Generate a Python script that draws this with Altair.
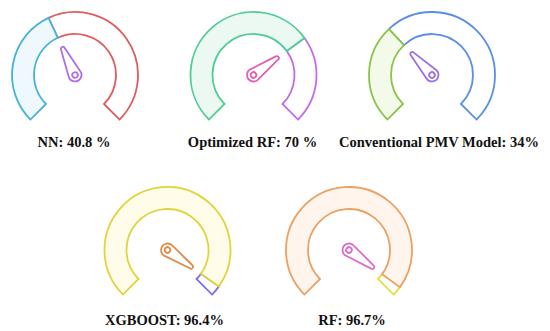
import math
import altair as alt
import pandas as pd

# ---- data ----
MODELS = ["NN", "Optimized RF", "Conventional PMV Model", "XGBOOST", "RF"]
ACCURACY = [40.8, 70.0, 34.0, 96.4, 96.7]
LABELS = ["NN: 40.8 %", "Optimized RF: 70 %", "Conventional PMV Model: 34%",
          "XGBOOST: 96.4%", "RF: 96.7%"]

# ---- styles ----
VALUE_STROKE = ["#46b4d8", "#4fce93", "#8dc348", "#e2d33e", "#eba064"]
VALUE_FILL = ["#eef8fd", "#ebf9f2", "#f3faea", "#fffde9", "#fff5ec"]
REST_STROKE = ["#e05c5c", "#c46ce6", "#5b8ee6", "#7c6ff0", "#e4df40"]
REST_FILL = ["#ffffff", "#ffffff", "#ffffff", "#ffffff", "#ffffff"]
NEEDLE_COLOR = ["#b06ee6", "#e060b2", "#9b70e6", "#e08c4c", "#e06cca"]
LABEL_DX = [-1, -1, 7, -3, 3]

NEEDLE_PATH = ("M -0.065 -0.93 L -0.205 -0.05 A 0.21 0.21 0 1 0 0.205 -0.05 "
               "L 0.065 -0.93 A 0.065 0.065 0 0 0 -0.065 -0.93 Z "
               "M 0.09 0 A 0.09 0.09 0 1 0 -0.09 0 A 0.09 0.09 0 1 0 0.09 0 Z")

theta_scale = alt.Scale(domain=[0, 100], range=[math.pi * 5 / 4, math.pi * 11 / 4])
angle_scale = alt.Scale(domain=[0, 100], range=[225, 495])

PANEL_H = 128


def gauge(i, width, offset):
    v = ACCURACY[i]
    seg = pd.DataFrame({
        "part": ["rest", "value"],
        "start": [v, 0.0],
        "end": [100.0, v],
        "fill": [REST_FILL[i], VALUE_FILL[i]],
        "stroke": [REST_STROKE[i], VALUE_STROKE[i]],
    })
    nd = pd.DataFrame({"model": [MODELS[i]], "value": [v], "color": [NEEDLE_COLOR[i]]})

    arc = alt.Chart(seg).mark_arc(radius=63, radius2=41, strokeWidth=1.8).encode(
        theta=alt.Theta("start:Q", scale=theta_scale, stack=None),
        theta2="end:Q",
        fill=alt.Fill("fill:N", scale=None),
        stroke=alt.Stroke("stroke:N", scale=None),
    )
    needle = alt.Chart(nd).mark_point(
        shape=NEEDLE_PATH, size=3844, filled=True, fill="white",
        strokeWidth=1.8, opacity=1
    ).encode(
        angle=alt.Angle("value:Q", scale=angle_scale),
        stroke=alt.Stroke("color:N", scale=None),
    )
    return alt.layer(arc, needle).properties(
        width=width, height=PANEL_H,
        title=alt.TitleParams(
            text=LABELS[i], orient="bottom", frame="group", anchor="middle",
            baseline="alphabetic", offset=offset, dx=LABEL_DX[i],
            font="Liberation Serif", fontSize=14.5, fontWeight="bold", color="#111111",
        ),
    )


spacer = alt.Chart(pd.DataFrame({"a": [0]})).mark_point(opacity=0).properties(
    width=42.5, height=PANEL_H)

top = alt.hconcat(gauge(0, 132, 8), gauge(1, 132, 8), gauge(2, 132, 8),
                  spacing=46.5, bounds="flush")
bottom = alt.hconcat(spacer, gauge(3, 132, 11), gauge(4, 132, 11),
                     spacing=49.5, bounds="flush")

chart = alt.vconcat(top, bottom, spacing=33).properties(
    padding=0, background="white"
).configure_view(strokeWidth=0)

chart.save("out.html", embed_options={"renderer": "svg", "actions": False})
